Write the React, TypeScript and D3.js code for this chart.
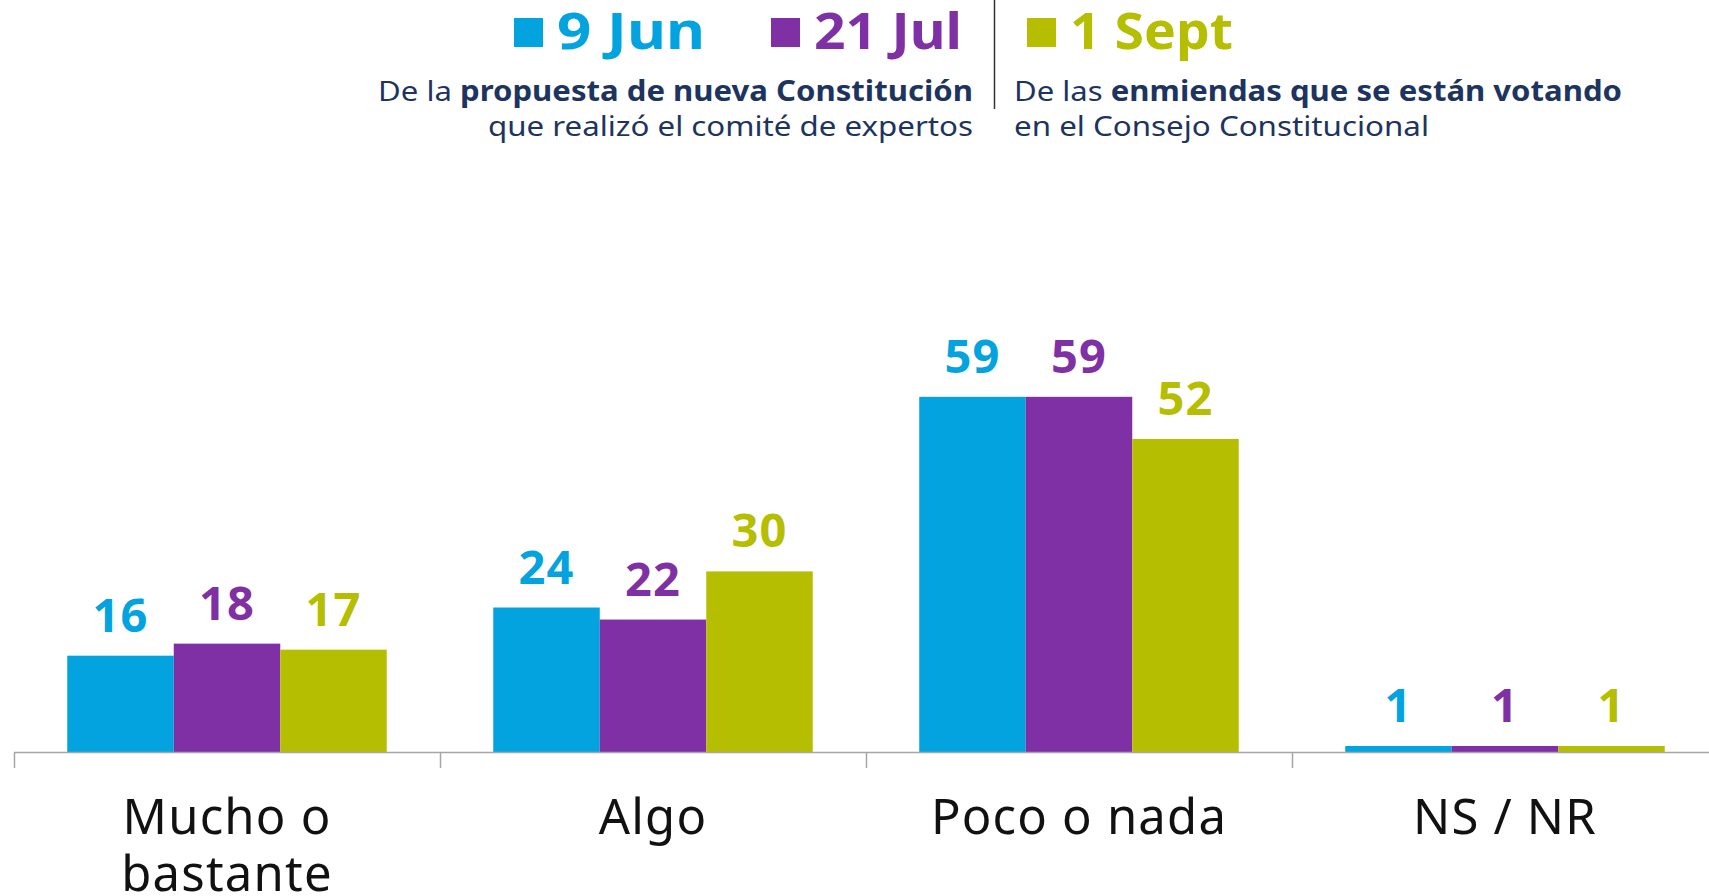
import { useEffect, useRef } from "react";
import * as d3 from "d3";

const categories = ["Mucho o bastante", "Algo", "Poco o nada", "NS / NR"];
const categoryLines = [["Mucho o", "bastante"], ["Algo"], ["Poco o nada"], ["NS / NR"]];
const seriesNames = ["9 Jun", "21 Jul", "1 Sept"];
const jun9 = [16, 24, 59, 1];
const jul21 = [18, 22, 59, 1];
const sept1 = [17, 30, 52, 1];
const colors = ["#02A3DF", "#7F30A5", "#B5BE00"];

const FONT = "'Noto Sans', 'Open Sans', sans-serif";
const NAVY = "#1D3461";

function App() {
  const ref = useRef<SVGSVGElement | null>(null);
  const width = 1709;
  const height = 896;
  const baseline = 752;

  useEffect(() => {
    const svg = d3.select(ref.current);
    svg.selectAll("*").remove();

    const values = [jun9, jul21, sept1];

    // x: one band per category, runs past the right edge like the original
    const x0 = d3.scaleBand().domain(categories).range([14, 1718]).padding(0);
    const x1 = d3
      .scaleBand()
      .domain(seriesNames)
      .range([0, x0.bandwidth()])
      .paddingInner(0)
      .paddingOuter(0.5);
    const y = d3.scaleLinear().domain([0, 100]).range([baseline, 150]);

    const g = svg.append("g");

    categories.forEach((cat, ci) => {
      seriesNames.forEach((s, si) => {
        const v = values[si][ci];
        const bx = x0(cat)! + x1(s)!;
        g.append("rect")
          .attr("x", bx)
          .attr("y", y(v))
          .attr("width", x1.bandwidth())
          .attr("height", baseline - y(v))
          .attr("fill", colors[si]);
        g.append("text")
          .attr("x", bx + x1.bandwidth() / 2)
          .attr("y", y(v) - 24)
          .attr("text-anchor", "middle")
          .attr("font-family", FONT)
          .attr("font-weight", 700)
          .attr("font-size", 47)
          .attr("letter-spacing", 1)
          .attr("fill", colors[si])
          .text(v);
      });
    });

    // axis line + ticks at band starts
    g.append("line")
      .attr("x1", 14)
      .attr("x2", width)
      .attr("y1", baseline + 0.5)
      .attr("y2", baseline + 0.5)
      .attr("stroke", "#a6a6a6")
      .attr("stroke-width", 1.5);
    categories.forEach((cat) => {
      g.append("line")
        .attr("x1", x0(cat)! + 0.5)
        .attr("x2", x0(cat)! + 0.5)
        .attr("y1", baseline)
        .attr("y2", baseline + 16)
        .attr("stroke", "#a6a6a6")
        .attr("stroke-width", 1.5);
    });

    categories.forEach((cat, ci) => {
      categoryLines[ci].forEach((line, li) => {
        g.append("text")
          .attr("x", x0(cat)! + x0.bandwidth() / 2)
          .attr("y", 834 + li * 57)
          .attr("text-anchor", "middle")
          .attr("font-family", FONT)
          .attr("font-size", 49)
          .attr("letter-spacing", 1.2)
          .attr("fill", "#111")
          .text(line);
      });
    });

    // header legend
    const legendX = [514, 771, 1027];
    const legendLen = [148, 148, 163];
    seriesNames.forEach((s, si) => {
      svg
        .append("rect")
        .attr("x", legendX[si])
        .attr("y", 18)
        .attr("width", 29)
        .attr("height", 29)
        .attr("fill", colors[si]);
      svg
        .append("text")
        .attr("x", legendX[si] + 43)
        .attr("y", 49)
        .attr("font-family", FONT)
        .attr("font-weight", 700)
        .attr("font-size", 51)
        .attr("textLength", legendLen[si])
        .attr("lengthAdjust", "spacingAndGlyphs")
        .attr("fill", colors[si])
        .text(s);
    });

    svg
      .append("line")
      .attr("x1", 994.5)
      .attr("x2", 994.5)
      .attr("y1", 0)
      .attr("y2", 109)
      .attr("stroke", "#333")
      .attr("stroke-width", 1.5);

    const sub = (
      xPos: number,
      yPos: number,
      anchor: string,
      len: number,
      parts: [string, boolean][]
    ) => {
      const t = svg
        .append("text")
        .attr("x", xPos)
        .attr("y", yPos)
        .attr("text-anchor", anchor)
        .attr("font-family", FONT)
        .attr("font-size", 28)
        .attr("textLength", len)
        .attr("lengthAdjust", "spacingAndGlyphs")
        .attr("fill", NAVY);
      parts.forEach(([txt, bold]) => {
        t.append("tspan").attr("font-weight", bold ? 700 : 400).text(txt);
      });
    };
    sub(973, 101, "end", 595, [["De la ", false], ["propuesta de nueva Constitución", true]]);
    sub(973, 136, "end", 485, [["que realizó el comité de expertos", false]]);
    sub(1014, 101, "start", 608, [["De las ", false], ["enmiendas que se están votando", true]]);
    sub(1014, 136, "start", 415, [["en el Consejo Constitucional", false]]);
  }, []);

  return (
    <div style={{ position: "absolute", left: 0, top: 0, overflow: "hidden", width, height }}>
      <svg ref={ref} width={width} height={height} style={{ display: "block", background: "#fff" }} />
    </div>
  );
}

export default App;
